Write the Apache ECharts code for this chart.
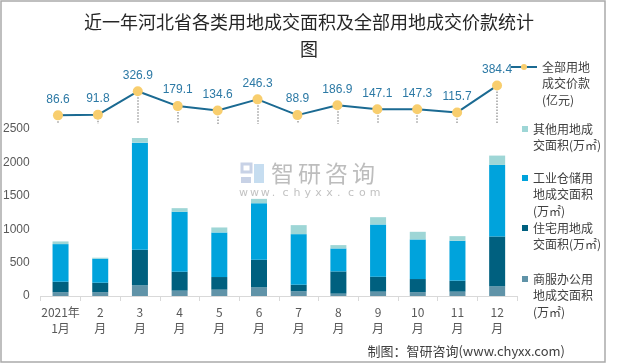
<!DOCTYPE html>
<html>
<head>
<meta charset="utf-8">
<script src="https://cdn.jsdelivr.net/npm/echarts@6/dist/echarts.min.js"></script>
<style>
html,body{margin:0;padding:0;background:#fff;}
#chart{width:620px;height:364px;}
</style>
</head>
<body>
<div id="chart"></div>
<script>
var categories = ['2021年\n1月','2\n月','3\n月','4\n月','5\n月','6\n月','7\n月','8\n月','9\n月','10\n月','11\n月','12\n月'];
var commercial = [55, 55, 159, 80, 95, 129, 70, 35, 65, 55, 65, 144];
var residential = [159, 144, 533, 283, 189, 414, 99, 333, 224, 199, 164, 747];
var industrial = [563, 359, 1604, 897, 667, 846, 757, 344, 782, 593, 598, 1071];
var other = [40, 15, 69, 55, 75, 65, 135, 50, 109, 114, 69, 140];
var price = [86.6, 91.8, 326.9, 179.1, 134.6, 246.3, 88.9, 186.9, 147.1, 147.3, 115.7, 384.4];
var yTicks = [0, 500, 1000, 1500, 2000, 2500];

var names = {
  com: '商服办公用地成交面积(万㎡)',
  res: '住宅用地成交面积(万㎡)',
  ind: '工业仓储用地成交面积(万㎡)',
  oth: '其他用地成交面积(万㎡)',
  price: '全部用地成交价款(亿元)'
};
var legendText = {};
legendText[names.com] = '商服办公用\n地成交面积\n(万㎡)';
legendText[names.res] = '住宅用地成\n交面积(万㎡)';
legendText[names.ind] = '工业仓储用\n地成交面积\n(万㎡)';
legendText[names.oth] = '其他用地成\n交面积(万㎡)';
legendText[names.price] = '全部用地\n成交价款\n(亿元)';

var colors = {com:'#6093A8', res:'#00607F', ind:'#00A3DC', oth:'#9ED6D6'};
var LH = 16.5;

function textStyle() {
  return {fontSize: 12, lineHeight: LH, color: '#404040', fontFamily: 'Noto Sans CJK SC'};
}

// icon: small square aligned with first text line; degenerate lines extend the box to full text height
function barLegend(name, left, firstLineY, lines) {
  var H = lines * LH;
  var c = LH / 2;
  var path = 'path://M0,0L6,0 M0,' + (c - 3) + 'L6,' + (c - 3) + 'L6,' + (c + 3) + 'L0,' + (c + 3) + 'Z M0,' + H + 'L6,' + H;
  return {
    data: [{name: name, icon: path}],
    left: left, top: firstLineY - c,
    orient: 'vertical', padding: 0,
    itemWidth: 6, itemHeight: H, itemGap: 0,
    selectedMode: false,
    itemStyle: {borderWidth: 0},
    formatter: function (n) { return legendText[n]; },
    textStyle: textStyle()
  };
}

function lineLegend(name, left, firstLineY, lines) {
  var H = lines * LH;
  var c = LH / 2;
  var path = 'path://M0,0L26,0 M0,' + (c - 1) + 'L26,' + (c - 1) + 'L26,' + (c + 1) + 'L0,' + (c + 1) + 'Z M0,' + H + 'L26,' + H;
  return {
    data: [{name: name, icon: path}],
    left: left, top: firstLineY - c,
    orient: 'vertical', padding: 0,
    itemWidth: 26, itemHeight: H, itemGap: 0,
    selectedMode: false,
    itemStyle: {color: '#1B6A92', borderWidth: 0},
    formatter: function (n) { return legendText[n]; },
    textStyle: textStyle()
  };
}

function dotLegend(name, cx, cy) {
  return {
    data: [{name: name, icon: 'circle'}],
    left: cx - 3, top: cy - 3,
    padding: 0, itemWidth: 6, itemHeight: 6,
    selectedMode: false,
    itemStyle: {color: '#F8CE6E', borderWidth: 0},
    formatter: function () { return ''; },
    textStyle: textStyle()
  };
}

var markData = price.map(function (v, i) {
  return [{coord: [categories[i], v]}, {coord: [categories[i], 0]}];
});

var wmChars = '智研咨询'.split('');
var wmUrl = 'www.chyxx.com'.split('');
var graphics = [
  {type:'rect', shape:{x:1, y:1, width:604, height:361}, style:{fill:'none', stroke:'#ABABAB', lineWidth:1.5}, silent:true},
  {type:'text', right: 620-565, top: 345, style:{text:'制图：智研咨询(www.chyxx.com)', font:'13px "Noto Sans CJK SC"', fill:'#404040'}},
  {type:'rect', shape:{x:242, y:164, width:9, height:8}, style:{fill:'none', stroke:'#C8D2E6', lineWidth:3}},
  {type:'rect', shape:{x:254, y:164, width:10, height:19}, style:{fill:'#C6DDF0'}},
  {type:'rect', shape:{x:241, y:177, width:10, height:6}, style:{fill:'#C8D2E6'}}
];
wmChars.forEach(function (c, i) {
  graphics.push({type:'text', x: 271 + i * 27, y: 162, style:{text:c, font:'23px "Noto Sans CJK SC"', fill:'#BDBDBD'}, silent:true});
});
wmUrl.forEach(function (c, i) {
  graphics.push({type:'text', x: 239 + i * 10.9, y: 188, style:{text:c, font:'11px "DejaVu Sans"', fill:'#C2C2C2'}, silent:true});
});

var option = {
  animation: false,
  backgroundColor: '#ffffff',
  title: {
    text: '近一年河北省各类用地成交面积及全部用地成交价款统计\n图',
    left: 304,
    top: 4,
    textAlign: 'center',
    textStyle: {fontSize: 18, fontWeight: 'normal', color: '#262626', lineHeight: 27, fontFamily: 'Noto Sans CJK SC'}
  },
  legend: [
    lineLegend(names.price, 511, 67, 3),
    dotLegend(names.price, 524, 67),
    barLegend(names.oth, 522, 129, 2),
    barLegend(names.ind, 522, 178, 3),
    barLegend(names.res, 522, 228, 2),
    barLegend(names.com, 522, 279, 3)
  ],
  grid: [
    {left: 38, right: 103, top: 129, bottom: 68},
    {left: 38, right: 103, top: 74, height: 50}
  ],
  xAxis: [
    {
      type: 'category', gridIndex: 0, data: categories,
      axisLine: {lineStyle: {color: '#D9D9D9', width: 1}},
      axisTick: {show: true, length: 5, lineStyle: {color: '#D9D9D9'}},
      axisLabel: {color: '#595959', fontSize: 12, lineHeight: 16, margin: 8, interval: 0, fontFamily: 'Noto Sans CJK SC'}
    },
    {type: 'category', gridIndex: 1, data: categories, show: false}
  ],
  yAxis: [
    {
      type: 'value', gridIndex: 0, min: yTicks[0], max: yTicks[yTicks.length - 1], interval: 500,
      axisLine: {show: false}, axisTick: {show: false}, splitLine: {show: false},
      axisLabel: {color: '#595959', fontSize: 12, margin: 11, fontFamily: 'Liberation Sans', formatter: function (v) { return String(v); }}
    },
    {type: 'value', gridIndex: 1, min: 0, max: 500, show: false, splitLine: {show: false}}
  ],
  series: [
    {name: names.com, type: 'bar', stack: 'a', data: commercial, barWidth: 16, itemStyle: {color: colors.com}},
    {name: names.res, type: 'bar', stack: 'a', data: residential, barWidth: 16, itemStyle: {color: colors.res}},
    {name: names.ind, type: 'bar', stack: 'a', data: industrial, barWidth: 16, itemStyle: {color: colors.ind}},
    {name: names.oth, type: 'bar', stack: 'a', data: other, barWidth: 16, itemStyle: {color: colors.oth}},
    {
      name: names.price, type: 'line', xAxisIndex: 1, yAxisIndex: 1, data: price,
      symbol: 'circle', symbolSize: 10, z: 5,
      lineStyle: {color: '#1B6A92', width: 2},
      itemStyle: {color: '#F8CE6E'},
      label: {show: true, position: 'top', distance: 5, color: '#2C79A5', fontSize: 12, fontFamily: 'Liberation Sans'},
      markLine: {
        silent: true, symbol: ['none', 'none'], z: 1,
        label: {show: false},
        lineStyle: {type: 'dotted', color: '#A0A0A0', width: 1.5},
        emphasis: {disabled: true},
        data: markData
      }
    }
  ],
  graphic: graphics
};

var chart = echarts.init(document.getElementById('chart'), null, {renderer: 'canvas'});
chart.setOption(option);
</script>
</body>
</html>
